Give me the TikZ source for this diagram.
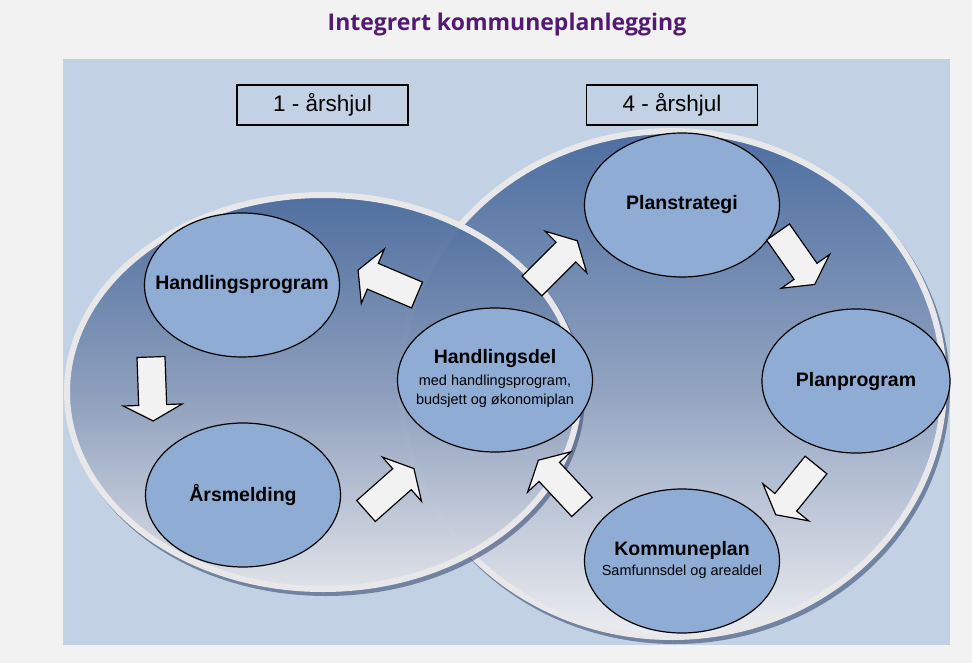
\documentclass[tikz,border=0pt]{standalone}
\usepackage{fontspec}
\setmainfont{Liberation Sans}
\newfontfamily\titlefont{Open Sans}
\usetikzlibrary{shapes.geometric}
\definecolor{bgrey}{RGB}{242,242,242}
\definecolor{panel}{RGB}{194,209,227}
\definecolor{stagefill}{RGB}{142,172,212}
\definecolor{ringtop}{RGB}{76,110,160}
\definecolor{ringmid}{RGB}{144,162,192}
\definecolor{ringbot}{RGB}{236,237,240}
\definecolor{ringedge}{RGB}{232,232,234}
\definecolor{ringshadow}{RGB}{62,78,118}
\definecolor{titlepurple}{RGB}{82,26,112}
\newcommand{\stagetwo}[2]{\begin{tabular}{@{}c@{}}\fontsize{19.5}{22}\selectfont\bfseries #1\\[1pt]\fontsize{14.5}{19}\selectfont #2\end{tabular}}
\newcommand{\stagethree}[3]{\begin{tabular}{@{}c@{}}\fontsize{19.5}{22}\selectfont\bfseries #1\\[3pt]\fontsize{14.5}{19}\selectfont #2\\\fontsize{14.5}{19}\selectfont #3\end{tabular}}

\begin{document}
\begin{tikzpicture}[x=1pt,y=-1pt,
  ring/.style={line width=6pt, draw=ringedge, top color=ringtop, bottom color=ringbot, middle color=ringmid},
  shadowring/.style={fill=ringshadow, opacity=0.6},
  stage/.style={ellipse, draw, line width=1.2pt, fill=stagefill, minimum width=195pt, minimum height=144pt, inner sep=0pt},
  stagelabel/.style={font=\fontsize{19.5}{22}\selectfont\bfseries, inner sep=0pt},
  sublabel/.style={font=\fontsize{14.5}{19}\selectfont, inner sep=0pt},
  yearbox/.style={draw, line width=1.5pt, fill=panel, minimum width=171pt, minimum height=40pt, inner sep=0pt, font=\fontsize{22.5}{26}\selectfont},
  blockarr/.pic={\draw[fill=bgrey, line width=1.2pt, line join=miter] (0,-14) -- (48,-14) -- (48,-29.5) -- (64,0) -- (48,29.5) -- (48,14) -- (0,14) -- cycle;}
]
\useasboundingbox (0,0) rectangle (972,663);
\fill[bgrey] (0,0) rectangle (972,663);
\fill[panel] (63,59) rectangle (950,645);

% 4-year wheel (behind)
\fill[shadowring] (675,388) ellipse [x radius=275, y radius=256];
\path[ring] (672,384) ellipse [x radius=272, y radius=253];
% 1-year wheel (in front, lets the other show through a little)
\fill[shadowring] (326,396) ellipse [x radius=259, y radius=200];
\path[ring, fill opacity=0.9] (323,392) ellipse [x radius=256, y radius=197];

\node[font=\titlefont\bfseries\fontsize{23}{27}\selectfont, text=titlepurple] (title) at (507,25) {Integrert kommuneplanlegging};
\node[yearbox] (wheel1) at (322.5,105) {1 - årshjul};
\node[yearbox] (wheel4) at (672,105) {4 - årshjul};

\node[stage, label={[stagelabel]center:Handlingsprogram}] (hprog) at (242,285) {};
\node[stage, label={[stagelabel]center:Årsmelding}] (aars) at (243,495) {};
\node[stage, label={[sublabel]center:\stagethree{Handlingsdel}{med handlingsprogram,}{budsjett og økonomiplan}}] (hdel) at (495,380) {};
\node[stage, label={[stagelabel]center:Planstrategi}] (pstrat) at (682,205) {};
\node[stage, minimum width=188pt, label={[stagelabel]center:Planprogram}] (pprog) at (856,381) {};
\node[stage, label={[sublabel]center:\stagetwo{Kommuneplan}{Samfunnsdel og arealdel}}] (kplan) at (682,561) {};

% block arrows: tail point, direction
\pic[rotate=157] at (417,295) {blockarr};
\pic[rotate=-88] at (151,357) {blockarr};
\pic[rotate=41.5] at (366,511) {blockarr};
\pic[rotate=45] at (532,286) {blockarr};
\pic[rotate=-55] at (778,232) {blockarr};
\pic[rotate=-129] at (816,465) {blockarr};
\pic[rotate=133] at (582,507) {blockarr};
\end{tikzpicture}
\end{document}
